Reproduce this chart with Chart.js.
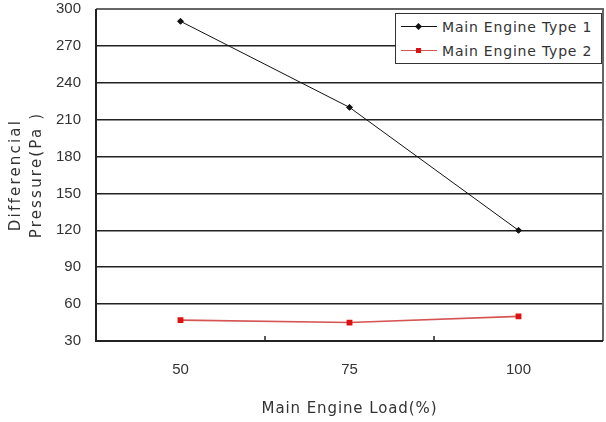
<!DOCTYPE html>
<html>
<head>
<meta charset="utf-8">
<script src="https://cdn.jsdelivr.net/npm/chart.js@4/dist/chart.umd.min.js"></script>
<style>
  html, body { margin: 0; padding: 0; background: #fff; }
  #wrap { position: relative; width: 606px; height: 422px; }
  #legend {
    position: absolute; left: 395px; top: 13px; width: 205px; height: 49px;
    border: 1px solid #333; background: #fff; letter-spacing: 0.8px;
    font: 14px "DejaVu Sans", sans-serif; color: #333;
  }
  .row { display: flex; align-items: center; height: 23px; margin-top: 1px; }
  .sw { position: relative; width: 36px; height: 10px; margin-left: 5px; margin-right: 5px; }
  .sw .ln { position: absolute; left: 0; right: 0; top: 4px; height: 1px; }
  .sw .mk { position: absolute; left: 15px; top: 2px; width: 5px; height: 5px; }
</style>
</head>
<body>
<div id="wrap">
  <canvas id="c" width="606" height="422"></canvas>
  <div id="legend"></div>
</div>
<script>
const loads = ['50', '75', '100'];
const type1 = [290, 220, 120];
const type2 = [47, 45, 50];
const yTicks = [30, 60, 90, 120, 150, 180, 210, 240, 270, 300];

const colors = ['#111111', '#d65454'];
const markColors = ['#111111', '#e01010'];
const names = ['Main Engine Type 1', 'Main Engine Type 2'];
const titleSpacing = { x: '0.9px', y: '2.2px' };

// the axis titles in the original are letter-spaced
const spacingPlugin = {
  id: 'titleSpacing',
  beforeDraw(chart) {
    Object.values(chart.scales).forEach(s => {
      if (s._spaced) return;
      const orig = s.drawTitle.bind(s);
      s.drawTitle = function () {
        const ctx = this.ctx;
        const prev = ctx.letterSpacing;
        ctx.letterSpacing = titleSpacing[this.id] || '0px';
        orig();
        ctx.letterSpacing = prev;
      };
      s._spaced = true;
    });
  }
};

// frame around the plot plus small ticks between categories
const framePlugin = {
  id: 'frame',
  afterDraw(chart) {
    const { ctx, chartArea: a, scales: { x } } = chart;
    ctx.save();
    ctx.strokeStyle = '#666';
    ctx.lineWidth = 2;
    ctx.beginPath();
    ctx.moveTo(a.left, a.top); ctx.lineTo(a.right, a.top); ctx.lineTo(a.right, a.bottom);
    ctx.stroke();
    ctx.strokeStyle = '#222';
    ctx.beginPath();
    ctx.moveTo(a.left, a.top); ctx.lineTo(a.left, a.bottom); ctx.lineTo(a.right, a.bottom);
    ctx.stroke();
    ctx.lineWidth = 1.5;
    for (let i = 0; i < loads.length - 1; i++) {
      const px = (x.getPixelForValue(i) + x.getPixelForValue(i + 1)) / 2;
      ctx.beginPath();
      ctx.moveTo(px, a.bottom); ctx.lineTo(px, a.bottom - 5);
      ctx.stroke();
    }
    ctx.restore();
  }
};

const chart = new Chart(document.getElementById('c'), {
  type: 'line',
  data: {
    labels: loads,
    datasets: [
      { label: names[0], data: type1, borderColor: colors[0], borderWidth: 1,
        pointStyle: 'rectRot', pointRadius: 3, pointBackgroundColor: markColors[0],
        pointBorderColor: markColors[0], tension: 0 },
      { label: names[1], data: type2, borderColor: colors[1], borderWidth: 1.6,
        pointStyle: 'rect', pointRadius: 3, pointBackgroundColor: markColors[1],
        pointBorderColor: markColors[1], tension: 0 }
    ]
  },
  options: {
    responsive: false,
    animation: false,
    layout: { autoPadding: false, padding: { top: 9, right: 3, left: 0, bottom: 0 } },
    plugins: { legend: { display: false }, tooltip: { enabled: false } },
    scales: {
      x: {
        offset: true,
        grid: { display: false },
        border: { display: false },
        ticks: { color: '#333', padding: 12, font: { family: 'Liberation Sans', size: 15 } },
        title: { display: true, text: 'Main Engine Load(%)', color: '#333',
                 font: { family: 'DejaVu Sans', size: 15 }, padding: { top: 8 } },
        afterFit(s) { s.height = 81; s.paddingLeft = 0; s.paddingRight = 0; }
      },
      y: {
        min: 30, max: 300,
        afterBuildTicks(s) { s.ticks = yTicks.map(v => ({ value: v })); },
        grid: { color: '#222', lineWidth: 1.5, drawTicks: false },
        border: { display: false },
        ticks: { color: '#333', padding: 15, font: { family: 'Liberation Sans', size: 15 } },
        title: { display: true, text: ['Differencial', 'Pressure(Pa )'], color: '#333',
                 font: { family: 'DejaVu Sans', size: 15, lineHeight: 1.4 },
                 padding: { top: 6, bottom: 4 } },
        afterFit(s) { s.width = 96; s.paddingTop = 0; s.paddingBottom = 0; }
      }
    }
  },
  plugins: [spacingPlugin, framePlugin]
});

// legend box built from the datasets
const leg = document.getElementById('legend');
chart.data.datasets.forEach((ds, i) => {
  const row = document.createElement('div');
  row.className = 'row';
  const mk = i === 0 ? 'transform: rotate(45deg);' : '';
  row.innerHTML = '<div class="sw"><div class="ln" style="background:' + ds.borderColor +
    '"></div><div class="mk" style="background:' + ds.pointBackgroundColor + ';' + mk +
    '"></div></div><span>' + ds.label + '</span>';
  leg.appendChild(row);
});
</script>
</body>
</html>
